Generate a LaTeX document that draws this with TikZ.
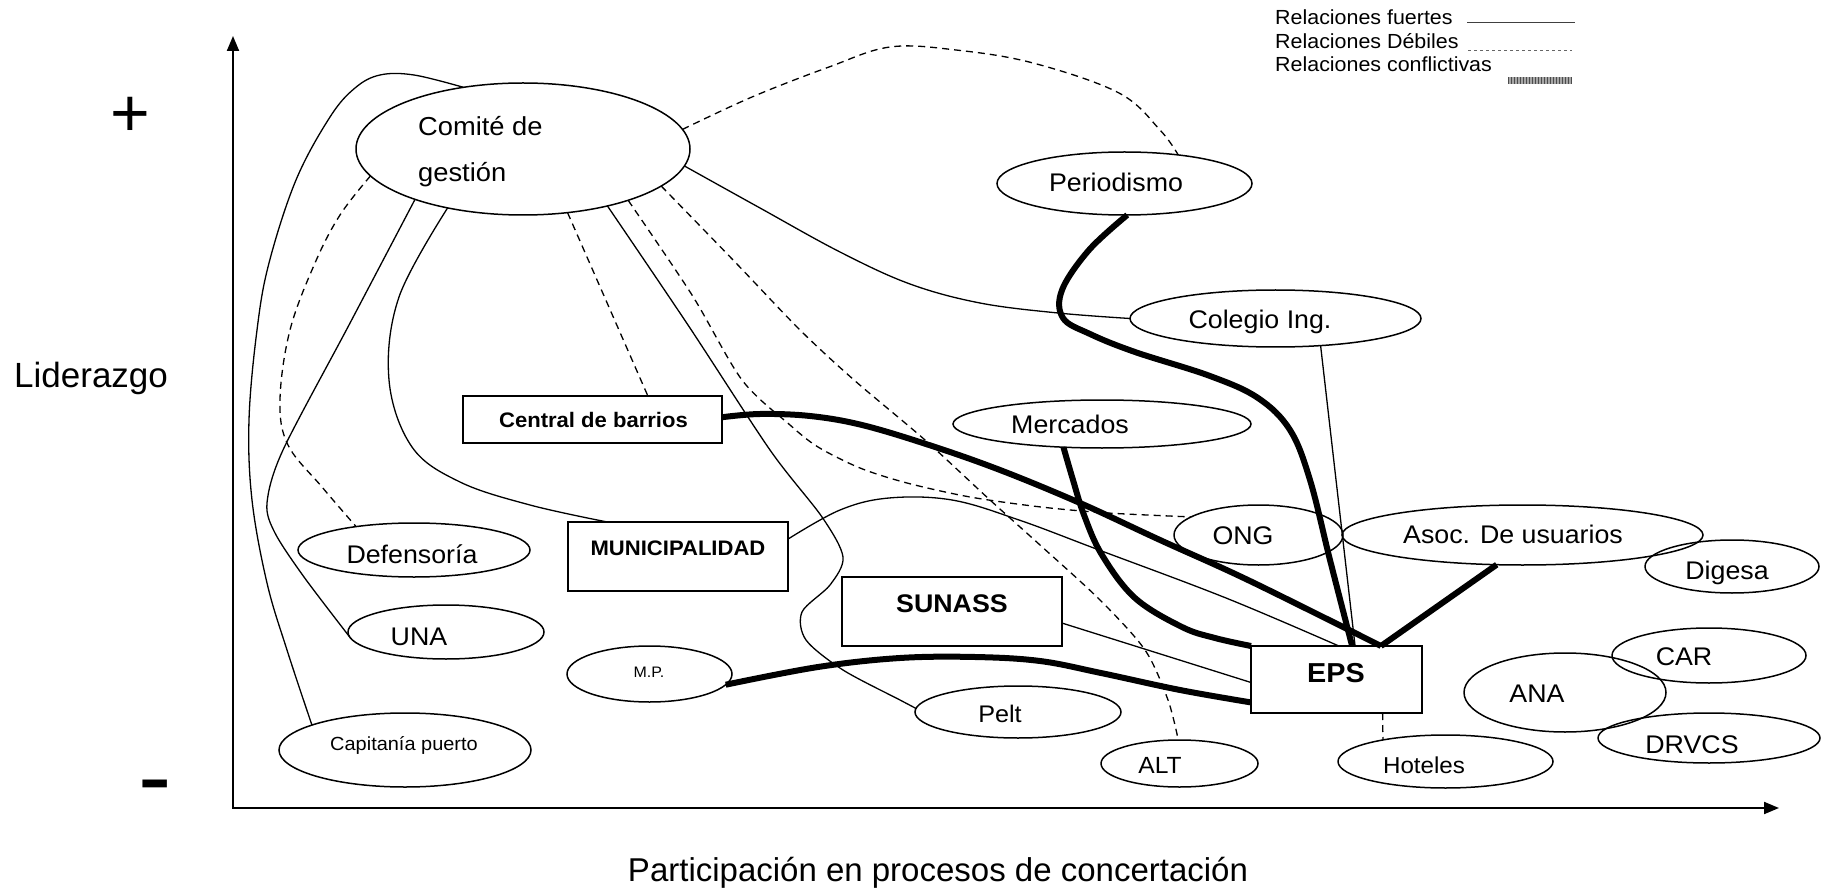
\documentclass[tikz,border=0pt]{standalone}
\usepackage{fontspec}
\setmainfont{Liberation Sans}
\newfontfamily\sfn{Liberation Sans}[FakeStretch=1.05]
\usetikzlibrary{shapes.geometric,arrows.meta}
\begin{document}
\begin{tikzpicture}[x=1pt,y=-1pt,
 ent/.style={draw, ellipse, line width=1.5pt, inner sep=0pt, outer sep=0pt},
 box/.style={draw, rectangle, line width=1.8pt, inner sep=0pt, outer sep=0pt},
 lb/.style={anchor=base, inner sep=0pt, font={\sfn\fontsize{#1}{#1}\selectfont}},
 lbb/.style={anchor=base, inner sep=0pt, font={\sfn\fontsize{#1}{#1}\selectfont\bfseries}},
 fuerte/.style={line width=1.3pt},
 debil/.style={line width=1.3pt, dash pattern=on 7pt off 5pt},
 conflicto/.style={line width=6pt}
]
\useasboundingbox (0,0) rectangle (1833,890);

% axes
\coordinate (O) at (233,808);
\coordinate (ytip) at (233,36);
\coordinate (xtip) at (1779,808);
\draw[line width=2pt, {Triangle[length=15pt,width=12pt]}-{Triangle[length=15pt,width=12pt]}] (ytip) -- (O) -- (xtip);
\node[anchor=base, inner sep=0pt, font=\fontsize{68}{68}\selectfont] (plus) at (130,137) {+};
\node[anchor=base, inner sep=0pt, font=\fontsize{100}{100}\selectfont] (minus) at (155,810) {-};
\node[anchor=base west, inner sep=0pt, font=\fontsize{35}{35}\selectfont] (lid) at (14,388) {Liderazgo};
\node[anchor=base, inner sep=0pt, font=\fontsize{33}{33}\selectfont] (par) at (938,881) {Participación en procesos de concertación};

% legend
\node[lb=20.4, anchor=base west] (lg1) at (1275,25) {Relaciones fuertes};
\node[lb=20.4, anchor=base west] (lg2) at (1275,49) {Relaciones Débiles};
\node[lb=20.4, anchor=base west] (lg3) at (1275,72) {Relaciones conflictivas};
\draw[line width=1pt, black!75] (1467,23) -- (1575,23);
\draw[line width=1pt, black!60, dash pattern=on 3pt off 3pt] (1468,51) -- (1572,51);
\draw[line width=7pt, black!35] (1508,80.5) -- (1572,80.5);
\draw[line width=7pt, black!70, dash pattern=on 1pt off 2pt] (1508,80.5) -- (1572,80.5);

% ellipses
\node[ent, minimum width=334pt, minimum height=132pt] (com) at (523,149) {};
\node[lb=26, anchor=base west] (tcom1) at (418,136) {Comité de};
\node[lb=26, anchor=base west] (tcom2) at (418,182) {gestión};
\node[ent, minimum width=255pt, minimum height=63pt] (per) at (1124.5,183.5) {};
\node[lb=25.5] (tper) at (1116,192) {Periodismo};
\node[ent, minimum width=291pt, minimum height=57pt] (col) at (1275.5,318.5) {};
\node[lb=25.5] (tcol) at (1260,329) {Colegio Ing.};
\node[ent, minimum width=298pt, minimum height=48pt] (mer) at (1102,424) {};
\node[lb=25.5] (tmer) at (1070,433) {Mercados};
\node[ent, minimum width=169pt, minimum height=60pt] (ong) at (1258.5,535) {};
\node[lb=25.5] (tong) at (1243,544) {ONG};
\node[ent, minimum width=361pt, minimum height=60pt] (aso) at (1522.5,535) {};
\node[lb=25.5] (taso) at (1513,543) {Asoc. De usuarios};
\node[ent, minimum width=174pt, minimum height=53pt] (dig) at (1732,566.5) {};
\node[lb=25.5] (tdig) at (1727,579) {Digesa};
\node[ent, minimum width=194pt, minimum height=55pt] (car) at (1709,655.5) {};
\node[lb=25.5] (tcar) at (1684,665) {CAR};
\node[ent, minimum width=202pt, minimum height=79pt] (ana) at (1565,692.5) {};
\node[lb=25.5] (tana) at (1537,702) {ANA};
\node[ent, minimum width=222pt, minimum height=50pt] (drv) at (1709,738) {};
\node[lb=25.5] (tdrv) at (1692,753) {DRVCS};
\node[ent, minimum width=206pt, minimum height=52pt] (pel) at (1018,712) {};
\node[lb=24] (tpel) at (1000,722) {Pelt};
\node[ent, minimum width=157pt, minimum height=47pt] (alt) at (1179.5,763.5) {};
\node[lb=23.4] (talt) at (1160,773) {ALT};
\node[ent, minimum width=215pt, minimum height=53pt] (hot) at (1445.5,761.5) {};
\node[lb=23] (thot) at (1424,773) {Hoteles};
\node[ent, minimum width=232pt, minimum height=54pt] (def) at (414,550) {};
\node[lb=25.5] (tdef) at (412,563) {Defensoría};
\node[ent, minimum width=196pt, minimum height=54pt] (una) at (446,632) {};
\node[lb=25.5] (tuna) at (419,645) {UNA};
\node[ent, minimum width=165pt, minimum height=56pt] (mp) at (649.5,674) {};
\node[lb=15.2] (tmp) at (649,677) {M.P.};
\node[ent, minimum width=252pt, minimum height=74pt] (cap) at (405,750) {};
\node[lb=19] (tcap) at (404,750) {Capitanía puerto};

% boxes
\node[box, minimum width=259pt, minimum height=47pt] (cb) at (592.5,419.5) {};
\node[lbb=21] (tcb) at (593.5,427) {Central de barrios};
\node[box, minimum width=220pt, minimum height=69pt] (mun) at (678,556.5) {};
\node[lbb=21] (tmun) at (678,555) {MUNICIPALIDAD};
\node[box, minimum width=220pt, minimum height=69pt] (sun) at (952,611.5) {};
\node[lbb=25.5] (tsun) at (952,612) {SUNASS};
\node[box, minimum width=171pt, minimum height=67pt] (eps) at (1336.5,679.5) {};
\node[lbb=27.4] (teps) at (1336,682) {EPS};

% connectors from Comite de gestion
\draw[fuerte] plot[smooth, tension=0.6] coordinates {(com.134) (414,75) (380,75) (355,88) (330,117) (296,180) (269,263) (257,330) (249,420) (252,500) (267,583) (287,650) (cap.165)};
\draw[debil] plot[smooth, tension=0.6] coordinates {(com.-170) (340,215) (315,263) (290,330) (280,400) (288,445) (322,487) (def.158)};
\draw[fuerte] plot[smooth, tension=0.5] coordinates {(com.-155) (349,325) (283,450) (267,503) (275,533) (304,577) (una.-177)};
\draw[fuerte] plot[smooth, tension=0.6] coordinates {(com.-142) (399,297) (389,380) (412,447) (460,482) (530,505) (mun.154.4)};
\draw[debil] (com.-55.5) -- (cb.23.7);
\draw[fuerte] plot[smooth, tension=0.5] coordinates {(com.-34) (688,325) (770,450) (822,517) (843,557) (830,585) (802,612) (806,640) (843,670) (900,700) (pel.178)};
\draw[debil] plot[smooth, tension=0.5] coordinates {(com.-15) (735,262) (800,330) (854,380) (925,440) (990,500) (1040,545) (1100,600) (1145,650) (1168,700) (alt.93)};
\draw[debil] plot[smooth, tension=0.5] coordinates {(com.-26) (692,295) (742,380) (790,425) (818,447) (860,468) (907,483) (970,497) (1041,507) (1108,513) (ong.165)};
\draw[fuerte] plot[smooth, tension=0.6] coordinates {(com.-6) (760,208) (840,252) (910,284) (980,303) (1058,313) (col.180)};
\draw[debil] plot[smooth, tension=0.6] coordinates {(com.7) (752,97) (829,67) (890,47) (956,50) (1033,63) (1119,93) (1160,130) (per.28)};

% connectors to EPS
\draw[conflicto] plot[smooth, tension=0.6] coordinates {(per.-85) (1089,250) (1062,290) (1063,318) (1090,334) (1135,352) (1210,376) (1258,398) (1290,430) (1310,480) (1330,560) (eps.65)};
\draw[fuerte] (col.-31) -- (eps.61);
\draw[conflicto] plot[smooth, tension=0.6] coordinates {(cb.1.3) (760,414) (810,416) (862,425) (929,445) (1000,470) (1080,503) (1160,540) (1250,581) (eps.37.6)};
\draw[conflicto] plot[smooth, tension=0.6] coordinates {(mer.-149) (1073,480) (1084,515) (1102,555) (1135,598) (1182,627) (1215,638) (eps.north west)};
\draw[conflicto] (aso.-131) -- (eps.37.6);
\draw[fuerte] plot[smooth, tension=0.6] coordinates {(mun.9.5) (840,510) (889,498) (952,500) (1019,520) (1099,550) (1226,598) (eps.86)};
\draw[fuerte] (sun.-6) -- (eps.182);
\draw[conflicto] plot[smooth, tension=0.6] coordinates {(mp.-8.5) (818,667) (900,658) (975,657) (1040,661) (1101,673) (1180,690) (eps.-165)};
\draw[debil] (eps.-36) -- (hot.161);
\end{tikzpicture}
\end{document}
